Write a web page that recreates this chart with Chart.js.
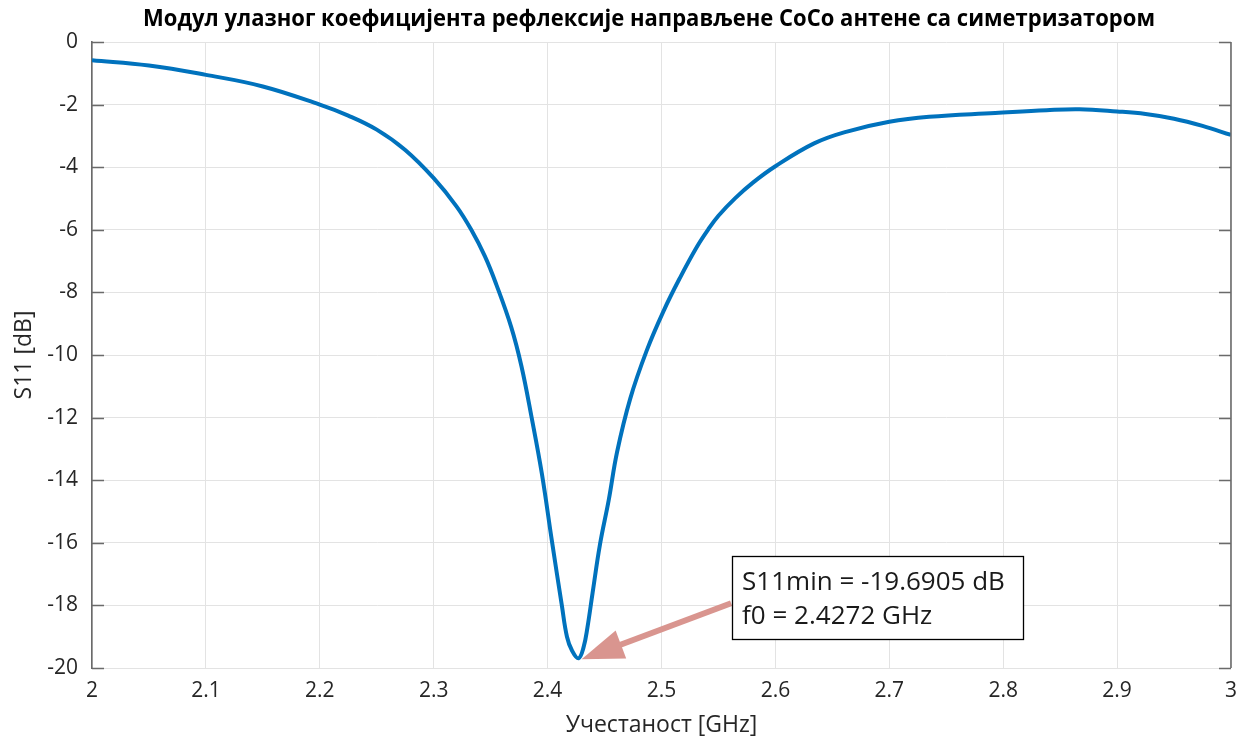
<!DOCTYPE html>
<html>
<head>
<meta charset="utf-8">
<script src="https://cdn.jsdelivr.net/npm/chart.js@4"></script>
<style>
  body { margin: 0; background: #ffffff; }
  #wrap { width: 1247px; height: 744px; }
</style>
</head>
<body>
<div id="wrap"><canvas id="s11Chart" width="1247" height="744"></canvas></div>
<script>

// ---------------- DATA ----------------

const freq = [2.0, 2.05, 2.1, 2.15, 2.2, 2.225, 2.25, 2.275, 2.3, 2.32, 2.333, 2.345, 2.355, 2.368, 2.377,
    2.386, 2.395, 2.4036, 2.4125, 2.417, 2.4215, 2.4272, 2.4315, 2.435, 2.4395, 2.446, 2.4537, 2.461,
    2.4725, 2.487, 2.502, 2.516, 2.531, 2.5408, 2.55, 2.565, 2.58, 2.6, 2.634, 2.662, 2.7, 2.735, 2.793,
    2.838, 2.867, 2.9, 2.925, 2.95, 2.975, 3.0];

const s11 = [-0.58, -0.75, -1.05, -1.42, -2.0, -2.35, -2.8, -3.45, -4.35, -5.25, -6.0, -6.85, -7.75, -9.1, -10.35,
    -12.0, -13.8, -15.9, -18.0, -19.0, -19.45, -19.6905, -19.35, -18.7, -17.6, -16.05, -14.63, -13.1,
    -11.4, -9.86, -8.58, -7.55, -6.55, -6.0, -5.55, -4.98, -4.5, -3.97, -3.24, -2.87, -2.55, -2.39, -2.27,
    -2.18, -2.15, -2.22, -2.3, -2.45, -2.68, -2.97];

const xTickValues = [2, 2.1, 2.2, 2.3, 2.4, 2.5, 2.6, 2.7, 2.8, 2.9, 3];
const xTickLabels = ["2", "2.1", "2.2", "2.3", "2.4", "2.5", "2.6", "2.7", "2.8", "2.9", "3"];

const yTickValues = [-20, -18, -16, -14, -12, -10, -8, -6, -4, -2, 0];
const yTickLabels = ["-20", "-18", "-16", "-14", "-12", "-10", "-8", "-6", "-4", "-2", "0"];

const titleText = "Модул улазног коефицијента рефлексије направљене CoCo антене са симетризатором";
const xTitle = "Учестаност [GHz]";
const yTitle = "S11 [dB]";

// marker annotation
const minFreq = 2.4272;
const minS11 = -19.6905;
const noteLines = ["S11min = -19.6905 dB", "f0 = 2.4272 GHz"];
const noteAnchor = [2.562, -16.43];   // top-left corner of the text box, in data units

// ---------------- PLUGINS ----------------

const FONT = "'Open Sans', 'DejaVu Sans', sans-serif";

const matlabBox = {
    id: "matlabBox",
    afterDraw(chart) {
        const ctx = chart.ctx;
        const a = chart.chartArea;
        const yScale = chart.scales.y;

        ctx.save();
        ctx.strokeStyle = "#6a6a6a";
        ctx.lineWidth = 1.6;

        // right axis line
        ctx.beginPath();
        ctx.moveTo(a.right, a.top);
        ctx.lineTo(a.right, a.bottom);
        ctx.stroke();

        // inward ticks, left and right
        yTickValues.forEach(v => {
            const py = Math.round(yScale.getPixelForValue(v)) + 0.5;
            ctx.beginPath();
            ctx.moveTo(a.left, py);
            ctx.lineTo(a.left + 12, py);
            ctx.moveTo(a.right, py);
            ctx.lineTo(a.right - 12, py);
            ctx.stroke();
        });

        // title, squeezed to the width of the original
        ctx.fillStyle = "#000000";
        ctx.font = "bold 23px " + FONT;
        ctx.textAlign = "center";
        ctx.textBaseline = "middle";
        const w = ctx.measureText(titleText).width;
        ctx.translate(649, 19);
        ctx.scale(1012 / w, 1);
        ctx.fillText(titleText, 0, 0);
        ctx.restore();
    }
};

const minNote = {
    id: "minNote",
    afterDatasetsDraw(chart) {
        const ctx = chart.ctx;
        const xs = chart.scales.x;
        const ys = chart.scales.y;

        const tipX = xs.getPixelForValue(minFreq) + 3;
        const tipY = ys.getPixelForValue(minS11) + 1;

        const bx = xs.getPixelForValue(noteAnchor[0]);
        const by = ys.getPixelForValue(noteAnchor[1]);
        const bw = 291;
        const bh = 83;

        const tailX = bx - 1;
        const tailY = by + 47;

        // arrow
        const dx = tipX - tailX;
        const dy = tipY - tailY;
        const len = Math.sqrt(dx * dx + dy * dy);
        const ux = dx / len;
        const uy = dy / len;
        const headLen = 42;
        const headHalf = 15;
        const baseX = tipX - ux * headLen;
        const baseY = tipY - uy * headLen;

        ctx.save();
        ctx.strokeStyle = "#d9958f";
        ctx.fillStyle = "#d9958f";
        ctx.lineWidth = 6;
        ctx.beginPath();
        ctx.moveTo(tailX, tailY);
        ctx.lineTo(baseX + ux * 4, baseY + uy * 4);
        ctx.stroke();

        ctx.beginPath();
        ctx.moveTo(tipX, tipY);
        ctx.lineTo(baseX - uy * headHalf, baseY + ux * headHalf);
        ctx.lineTo(baseX + uy * headHalf, baseY - ux * headHalf);
        ctx.closePath();
        ctx.fill();

        // text box
        ctx.fillStyle = "#ffffff";
        ctx.fillRect(bx, by, bw, bh);
        ctx.strokeStyle = "#000000";
        ctx.lineWidth = 1.3;
        ctx.strokeRect(Math.round(bx) + 0.5, Math.round(by) + 0.5, bw, bh);

        ctx.fillStyle = "#1a1a1a";
        ctx.font = "26px " + FONT;
        ctx.textAlign = "left";
        ctx.textBaseline = "alphabetic";
        ctx.fillText(noteLines[0], bx + 10, by + 34);
        ctx.fillText(noteLines[1], bx + 10, by + 68);
        ctx.restore();
    }
};

// ---------------- CHART ----------------

const ctx = document.getElementById("s11Chart");

new Chart(ctx, {

    type: "line",

    data: {
        datasets: [{
            data: freq.map((f, i) => ({ x: f, y: s11[i] })),
            borderColor: "#0072BD",
            borderWidth: 4,
            pointRadius: 0,
            fill: false,
            tension: 0.4
        }]
    },

    options: {

        responsive: false,
        animation: false,

        layout: {
            padding: { top: 42, right: 12, left: 0, bottom: 0 }
        },

        plugins: {
            legend: { display: false },
            tooltip: { enabled: false },
            title: { display: false }
        },

        scales: {

            x: {
                type: "linear",
                min: 2,
                max: 3,
                afterBuildTicks: scale => {
                    scale.ticks = xTickValues.map(v => ({ value: v }));
                },
                afterFit: scale => { scale.height = 76; },
                ticks: {
                    color: "#262626",
                    font: { family: FONT, size: 21 },
                    padding: 10,
                    maxRotation: 0,
                    callback: (value, index) => xTickLabels[index]
                },
                grid: {
                    color: "#e3e3e3",
                    lineWidth: 1,
                    drawTicks: false
                },
                border: { color: "#e3e3e3", width: 1 },
                title: {
                    display: true,
                    text: xTitle,
                    color: "#262626",
                    font: { family: FONT, size: 23 },
                    padding: { top: 0, bottom: 5 }
                }
            },

            y: {
                type: "linear",
                min: -20,
                max: 0,
                afterBuildTicks: scale => {
                    scale.ticks = yTickValues.map(v => ({ value: v }));
                },
                afterFit: scale => { scale.width = 92; },
                ticks: {
                    color: "#262626",
                    font: { family: FONT, size: 21 },
                    padding: 14,
                    callback: (value, index) => yTickLabels[index]
                },
                grid: {
                    color: "#e3e3e3",
                    lineWidth: 1,
                    drawTicks: false
                },
                border: { color: "#6a6a6a", width: 1.6 },
                title: {
                    display: true,
                    text: yTitle,
                    color: "#262626",
                    font: { family: FONT, size: 23 },
                    padding: { top: 11, bottom: 0 }
                }
            }
        }
    },

    plugins: [minNote, matlabBox]
});

</script>
</body>
</html>
